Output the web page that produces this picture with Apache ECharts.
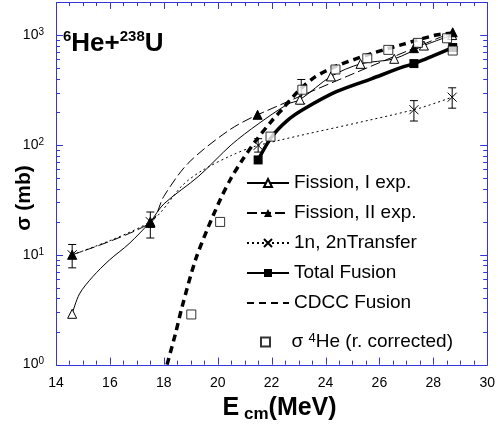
<!DOCTYPE html>
<html>
<head>
<meta charset="utf-8">
<script src="https://cdn.jsdelivr.net/npm/echarts@6/dist/echarts.min.js"></script>
<style>
  html, body { margin: 0; padding: 0; background: #fff; }
  #chart { width: 498px; height: 428px; }
</style>
</head>
<body>
<div id="chart"></div>
<script>
// E_cm (MeV) and sigma (mb)

// Fission, I exp. (open triangles) + points on its fitted curve
const fis1X = [14.6, 17.5, 23.05, 24.2, 25.3, 26.55, 27.65, 28.7]
const fis1Y = [2.9, 20, 258, 420, 547, 608, 803, 1000]
const fis1CurveX = [14.87, 15.36, 15.97, 16.71, 18.0, 19.3, 20.5, 21.5, 22.6]
const fis1CurveY = [4.4, 6.3, 8.9, 12.6, 29, 52, 100, 155, 235]

// Fission, II exp. (filled triangles)
const fis2X = [14.6, 17.5, 21.48, 27.28, 28.72]
const fis2Y = [10, 19.5, 188, 760, 1060]
const fis2CurveX = [18.0, 18.9, 20.4]
const fis2CurveY = [34, 68, 135]

// 1n, 2n transfer (crosses)
const trX = [14.6, 17.5, 21.5, 27.28, 28.7]
const trY = [10, 20, 99, 209, 272]
const trCurveX = [18.7, 19.4, 20.5]
const trCurveY = [43, 58, 80]

// Total fusion (filled squares)
const fusX = [21.5, 27.28, 28.72]
const fusY = [73, 550, 770]
const fusCurveX = [22.0, 22.6, 23.2, 24.4, 25.7, 26.9]
const fusCurveY = [118, 168, 212, 305, 400, 515]

// CDCC fusion calculation (curve only)
const cdccX = [18.12, 18.43, 18.67, 19.17, 19.6, 20.1, 20.5, 20.9, 21.4, 22.0, 22.4, 23.0, 23.6, 24.45, 25.7, 26.9, 28.1, 28.65]
const cdccY = [1, 1.9, 3.3, 8.9, 16.7, 32, 50, 72, 108, 165, 212, 311, 414, 527, 677, 828, 1000, 1040]

// sigma 4He (r. corrected), open squares
const he4X = [19.02, 20.09, 21.96, 23.14, 24.37, 25.55, 26.33, 27.43, 28.51, 28.72]
const he4Y = [2.86, 19.9, 119, 318, 486, 615, 733, 849, 935, 723]

// error bars
const errX = [14.6, 17.5, 21.5, 23.1, 27.28, 28.7]
const errLo = [7.6, 14.2, 86, 237, 165, 216]
const errHi = [12.4, 24.5, 114, 394, 253, 331]

// tick values
const xMajor = [14, 16, 18, 20, 22, 24, 26, 28, 30]
const xMinor = [14.5, 15, 15.5, 16.5, 17, 17.5, 18.5, 19, 19.5, 20.5, 21, 21.5, 22.5, 23, 23.5, 24.5, 25, 25.5, 26.5, 27, 27.5, 28.5, 29, 29.5]
const yMajor = [1, 10, 100, 1000]
const yMinor = [2, 3, 4, 5, 6, 7, 8, 9, 20, 30, 40, 50, 60, 70, 80, 90, 200, 300, 400, 500, 600, 700, 800, 900]

const FONT = "Liberation Sans, Arial, Helvetica, sans-serif"
const AXIS_BLUE = "#3434dc"

// measured points keep the marker, curve points are drawn without it
const mergeLine = (mx, my, cx, cy) => {
  const pts = mx.map((x, i) => ({ value: [x, my[i]] }))
  cx.forEach((x, i) => pts.push({ value: [x, cy[i]], symbol: "none" }))
  pts.sort((a, b) => a.value[0] - b.value[0])
  return pts
}

const chart = echarts.init(document.getElementById("chart"))

const crisp = (v) => Math.round(v) + 0.5
const tickStyle = { stroke: AXIS_BLUE, lineWidth: 1 }

// inside ticks on both sides of the frame, placed by the axis scales
// (the built-in axisTick did not show up together with these series)
const tickSeries = (values, dim, len) => ({
  type: "custom",
  silent: true,
  clip: false,
  z: 10,
  data: values.map((v) => (dim === "x" ? [v, 1] : [14, v])),
  encode: { x: 0, y: 1 },
  renderItem: (params, api) => {
    const cs = params.coordSys
    const p = api.coord([api.value(0), api.value(1)])
    if (dim === "x") {
      const x = crisp(p[0])
      const y0 = cs.y + cs.height
      return {
        type: "group",
        children: [
          { type: "line", shape: { x1: x, y1: y0, x2: x, y2: y0 - len }, style: tickStyle },
          { type: "line", shape: { x1: x, y1: cs.y, x2: x, y2: cs.y + len }, style: tickStyle }
        ]
      }
    }
    const y = crisp(p[1])
    const x1 = cs.x + cs.width
    return {
      type: "group",
      children: [
        { type: "line", shape: { x1: cs.x, y1: y, x2: cs.x + len, y2: y }, style: tickStyle },
        { type: "line", shape: { x1: x1, y1: y, x2: x1 - len, y2: y }, style: tickStyle }
      ]
    }
  }
})

const option = {
  animation: false,
  backgroundColor: "#fff",
  grid: { left: 56, right: 8, top: 2, bottom: 63 },
  title: {
    text: "{s|6}{b|He+}{s|238}{b|U}",
    left: 58,
    top: 24,
    textStyle: {
      rich: {
        b: { fontSize: 26, fontWeight: "bold", fontFamily: FONT, color: "#000", lineHeight: 30 },
        s: { fontSize: 15, fontWeight: "bold", fontFamily: FONT, color: "#000", lineHeight: 10, verticalAlign: "top" }
      }
    }
  },
  graphic: [
    {
      type: "text",
      x: 24,
      y: 198,
      rotation: Math.PI / 2,
      style: { text: "σ (mb)", font: "bold 21px " + FONT, fill: "#000", align: "center", verticalAlign: "middle" }
    }
  ],
  legend: [
    {
      data: [
        "Fission, I exp.",
        "Fission, II exp.",
        "1n, 2nTransfer",
        "Total Fusion",
        { name: "CDCC Fusion", itemStyle: { opacity: 0 } }
      ],
      orient: "vertical",
      left: 246,
      top: 173,
      padding: 0,
      itemWidth: 42,
      itemHeight: 10,
      itemGap: 10,
      textStyle: { fontSize: 19, fontFamily: FONT, color: "#000", lineHeight: 20 }
    },
    {
      data: [{ name: "sigma4He", icon: "path://M0,0L10,0L10,10L0,10Z" }],
      orient: "vertical",
      left: 260,
      top: 332,
      padding: 0,
      itemWidth: 42,
      itemHeight: 9,
      formatter: () => "{a|σ }{s|4}{a|He (r. corrected)}",
      textStyle: {
        color: "#000",
        rich: {
          a: { fontSize: 19, fontFamily: FONT, color: "#000", lineHeight: 20 },
          s: { fontSize: 13, fontFamily: FONT, color: "#000", lineHeight: 10, verticalAlign: "top" }
        }
      }
    }
  ],
  xAxis: {
    type: "value",
    min: xMajor[0],
    max: xMajor[xMajor.length - 1],
    interval: 2,
    axisLine: { show: false },
    axisTick: { show: false },
    minorTick: { show: false },
    splitLine: { show: false },
    axisLabel: { color: "#000", fontSize: 14, fontFamily: FONT, margin: 12 },
    name: "{e|E}{c| cm}{e|(MeV)}",
    nameLocation: "middle",
    nameGap: 24,
    nameTextStyle: {
      padding: [0, 0, 0, 16],
      rich: {
        e: { fontSize: 25, fontWeight: "bold", fontFamily: FONT, color: "#000", lineHeight: 30 },
        c: { fontSize: 17, fontWeight: "bold", fontFamily: FONT, color: "#000", lineHeight: 4, verticalAlign: "bottom" }
      }
    }
  },
  yAxis: {
    type: "log",
    logBase: 10,
    min: 1,
    max: 2000,
    axisLine: { show: false },
    axisTick: { show: false },
    splitLine: { show: false },
    axisLabel: {
      customValues: yMajor,
      margin: 12,
      formatter: (v) => "{b|10}{s|" + Math.round(Math.log10(v)) + "}",
      rich: {
        b: { fontSize: 14, fontFamily: FONT, color: "#000", lineHeight: 16 },
        s: { fontSize: 10, fontFamily: FONT, color: "#000", lineHeight: 8, verticalAlign: "top" }
      }
    }
  },
  series: [
    {
      name: "Fission, I exp.",
      type: "line",
      smooth: 0.3,
      data: mergeLine(fis1X, fis1Y, fis1CurveX, fis1CurveY),
      symbol: "triangle",
      symbolSize: 9,
      lineStyle: { color: "#000", width: 1 },
      itemStyle: { color: "#fff", borderColor: "#000", borderWidth: 1 },
      z: 3
    },
    {
      name: "Fission, II exp.",
      type: "line",
      smooth: 0.3,
      data: mergeLine(fis2X, fis2Y, fis2CurveX, fis2CurveY),
      symbol: "triangle",
      symbolSize: 9,
      lineStyle: { color: "#000", width: 1, type: [10, 4] },
      itemStyle: { color: "#000", borderColor: "#000" },
      z: 4
    },
    {
      name: "1n, 2nTransfer",
      type: "line",
      smooth: 0.3,
      data: mergeLine(trX, trY, trCurveX, trCurveY),
      symbol: "path://M0,0L10,10M10,0L0,10",
      symbolSize: 9,
      lineStyle: { color: "#000", width: 1, type: [2, 3] },
      itemStyle: { color: "rgba(0,0,0,0)", borderColor: "#000", borderWidth: 1 },
      z: 4
    },
    {
      name: "Total Fusion",
      type: "line",
      smooth: 0.3,
      data: mergeLine(fusX, fusY, fusCurveX, fusCurveY),
      symbol: "rect",
      symbolSize: 9,
      lineStyle: { color: "#000", width: 3.5 },
      itemStyle: { color: "#000" },
      z: 4
    },
    {
      name: "CDCC Fusion",
      type: "line",
      smooth: 0.3,
      data: cdccX.map((x, i) => [x, cdccY[i]]),
      symbol: "none",
      lineStyle: { color: "#000", width: 3.5, type: [7, 5] },
      itemStyle: { color: "#000" },
      z: 3
    },
    {
      name: "sigma4He",
      type: "scatter",
      data: he4X.map((x, i) => [x, he4Y[i]]),
      symbol: "rect",
      symbolSize: 9,
      itemStyle: { color: "#fff", borderColor: "#000", borderWidth: 1 },
      z: 5
    },
    {
      type: "custom",
      data: errX.map((x, i) => [x, errLo[i], errHi[i]]),
      encode: { x: 0, y: [1, 2] },
      z: 2,
      renderItem: (params, api) => {
        const lo = api.coord([api.value(0), api.value(1)])
        const hi = api.coord([api.value(0), api.value(2)])
        const w = 4
        const st = { stroke: "#000", lineWidth: 1 }
        return {
          type: "group",
          children: [
            { type: "line", shape: { x1: lo[0], y1: lo[1], x2: hi[0], y2: hi[1] }, style: st },
            { type: "line", shape: { x1: lo[0] - w, y1: lo[1], x2: lo[0] + w, y2: lo[1] }, style: st },
            { type: "line", shape: { x1: hi[0] - w, y1: hi[1], x2: hi[0] + w, y2: hi[1] }, style: st }
          ]
        }
      }
    },
    // plot frame in the axis colour
    {
      type: "custom",
      silent: true,
      clip: false,
      z: 11,
      data: [[14, 1]],
      encode: { x: 0, y: 1 },
      renderItem: (params) => {
        const cs = params.coordSys
        return {
          type: "rect",
          shape: { x: crisp(cs.x), y: crisp(cs.y), width: Math.round(cs.width), height: Math.round(cs.height) },
          style: { fill: "none", stroke: AXIS_BLUE, lineWidth: 1 }
        }
      }
    },
    tickSeries(xMajor, "x", 7),
    tickSeries(xMinor, "x", 4),
    tickSeries(yMajor, "y", 7),
    tickSeries(yMinor, "y", 4)
  ]
}

chart.setOption(option)
</script>
</body>
</html>
